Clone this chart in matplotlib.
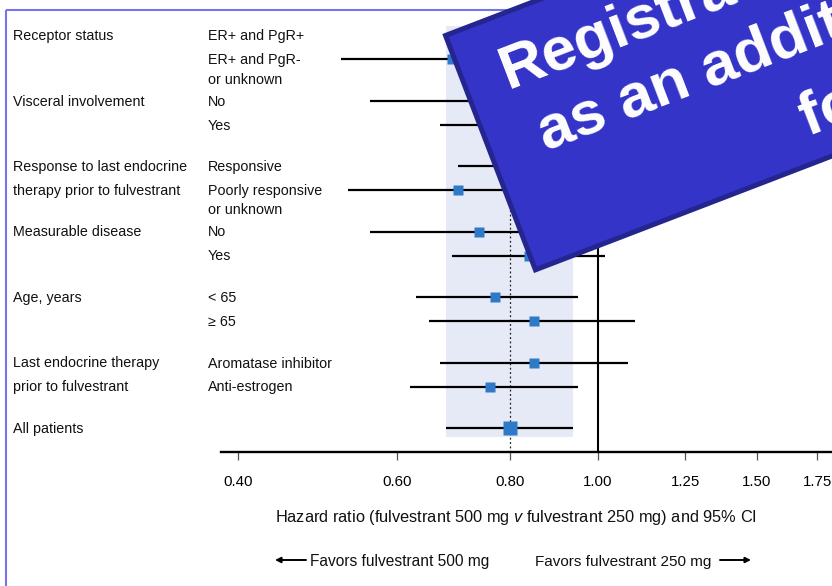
import matplotlib
matplotlib.use("Agg")
import matplotlib.pyplot as plt
from matplotlib.patches import Polygon
import numpy as np

plt.rcParams["mathtext.fontset"] = "custom"
plt.rcParams["mathtext.it"] = "Liberation Sans:italic"
plt.rcParams["mathtext.rm"] = "Liberation Sans"

# ---- data -------------------------------------------------------------
group_labels = [
    "Receptor status", "", "Visceral involvement", "",
    "Response to last endocrine", "therapy prior to fulvestrant",
    "Measurable disease", "", "Age, years", "",
    "Last endocrine therapy", "prior to fulvestrant", "All patients",
]
subgroup_labels = [
    "ER+ and PgR+", "ER+ and PgR-\nor unknown", "No", "Yes",
    "Responsive", "Poorly responsive\nor unknown", "No", "Yes",
    "< 65", "\u2265 65", "Aromatase inhibitor", "Anti-estrogen", "",
]
hazard_ratio = [0.80, 0.69, 0.84, 0.78, 0.85, 0.70, 0.74, 0.84, 0.77, 0.85, 0.85, 0.76, 0.80]
ci_low       = [0.70, 0.52, 0.56, 0.67, 0.70, 0.53, 0.56, 0.69, 0.63, 0.65, 0.67, 0.62, 0.68]
ci_high      = [0.93, 0.93, 1.25, 0.91, 1.02, 0.93, 0.98, 1.02, 0.95, 1.10, 1.08, 0.95, 0.94]
tick_values = [0.40, 0.60, 0.80, 1.00, 1.25, 1.50, 1.75]
tick_labels = ["0.40", "0.60", "0.80", "1.00", "1.25", "1.50", "1.75"]
xlabel_text = "Hazard ratio (fulvestrant 500 mg $\\it{v}$ fulvestrant 250 mg) and 95% CI"
favors_left = "Favors fulvestrant 500 mg"
favors_right = "Favors fulvestrant 250 mg"
banner_lines = ["Registration", "as an additional", "for"]

# ---- layout (pixel units, y grows downward) ----------------------------
W, H = 832, 586
group_sizes = [2, 2, 2, 2, 2, 2, 1]
row_y = []
y = 35.0
for g in group_sizes:
    for k in range(g):
        row_y.append(y)
        y += 24.0
    y += 41.5 - 24.0
axis_y = 452.0
band_top, band_bottom = 26.0, 436.7

regular = ["Liberation Sans", "DejaVu Sans"]

fig = plt.figure(figsize=(W / 100, H / 100), dpi=100)
fig.patch.set_facecolor("white")

# main forest-plot axes
x0 = 221.0
ax = fig.add_axes([x0 / W, (H - axis_y) / H, (W - x0) / W, axis_y / H])
ax.set_xscale("log")
ax.set_xlim(0.3831, 1.8164)
ax.set_ylim(axis_y, 0)
ax.patch.set_alpha(0)
for s in ("top", "left", "right"):
    ax.spines[s].set_visible(False)
ax.spines["bottom"].set_linewidth(1.7)
ax.set_yticks([])
ax.xaxis.set_minor_locator(matplotlib.ticker.NullLocator())
ax.set_xticks(tick_values)
ax.set_xticklabels(tick_labels, family=regular, fontsize=10.8)
ax.tick_params(axis="x", direction="out", length=5.8, width=0.9, color="#555555", pad=10.5)

o_lo, o_hr, o_hi = ci_low[-1], hazard_ratio[-1], ci_high[-1]
ax.fill_betweenx([band_top, band_bottom], o_lo, o_hi, color="#e6e9f6", lw=0, zorder=0)
ax.plot([o_hr, o_hr], [band_top, axis_y], ls=(0, (1.5, 2.0)), color="#222222", lw=0.9, zorder=1)
ax.plot([1.0, 1.0], [band_top, axis_y], color="black", lw=1.5, zorder=1)

for i, yy in enumerate(row_y):
    ax.plot([ci_low[i], ci_high[i]], [yy, yy], color="black", lw=1.6, zorder=2,
            solid_capstyle="butt")
    ms = 9.4 if i == len(row_y) - 1 else 7.6
    ax.plot(hazard_ratio[i], yy, marker="s", ms=ms, color="#2f7ac8", mec="none", zorder=3)

# overlay axes in pixel coordinates for labels, frame and banner
ov = fig.add_axes([0, 0, 1, 1], zorder=5)
ov.set_xlim(0, W)
ov.set_ylim(H, 0)
ov.axis("off")
ov.patch.set_alpha(0)

fs_lab = 10.3
for i, yy in enumerate(row_y):
    if group_labels[i]:
        ov.text(13, yy + 5, group_labels[i], family=regular, fontsize=fs_lab,
                ha="left", va="baseline", color="#111111")
    for k, line in enumerate(subgroup_labels[i].split("\n")):
        if line:
            ov.text(208, yy + 5 + 19.5 * k, line, family=regular, fontsize=fs_lab,
                    ha="left", va="baseline", color="#111111")

ov.text(516, 522, xlabel_text, family=regular, fontsize=11.75, ha="center",
        va="baseline", color="#111111")
ov.text(310, 566, favors_left, family=regular, fontsize=11.2, ha="left",
        va="baseline", color="#111111")
ov.text(535, 566, favors_right, family=regular, fontsize=11.0, ha="left",
        va="baseline", color="#111111")
arrow_kw = dict(arrowstyle="-|>", lw=1.4, color="black", mutation_scale=8,
                shrinkA=0, shrinkB=0)
ov.annotate("", xy=(275, 560), xytext=(306, 560), arrowprops=arrow_kw)
ov.annotate("", xy=(751, 560), xytext=(720, 560), arrowprops=arrow_kw)

# page frame
ov.plot([5.5, W + 5], [10, 10], color="#7474ee", lw=1.5, solid_capstyle="butt")
ov.plot([5.5, 5.5], [10, H + 5], color="#7474ee", lw=1.5, solid_capstyle="butt")

# rotated banner
ang = np.deg2rad(21.0)
u = np.array([np.cos(ang), -np.sin(ang)])
v = np.array([np.sin(ang), np.cos(ang)])
tl = np.array([445.5, 35.5])
bh, bw = 251.0, 900.0
corners = [tl, tl + bw * u, tl + bw * u + bh * v, tl + bh * v]
ov.add_patch(Polygon(corners, closed=True, facecolor="#3434c8", edgecolor="#25258f",
                     lw=3.6, joinstyle="miter", zorder=10))
banner_pos = [(508.0, 89.0), (546.0, 151.0), (808.0, 136.0)]
for (bx, by), line in zip(banner_pos, banner_lines):
    ov.text(bx, by, line, family=regular, fontweight="bold", fontsize=44.5,
            color="white", rotation=21, rotation_mode="anchor",
            ha="left", va="baseline", zorder=11)

fig.savefig("out.png", dpi=100)
